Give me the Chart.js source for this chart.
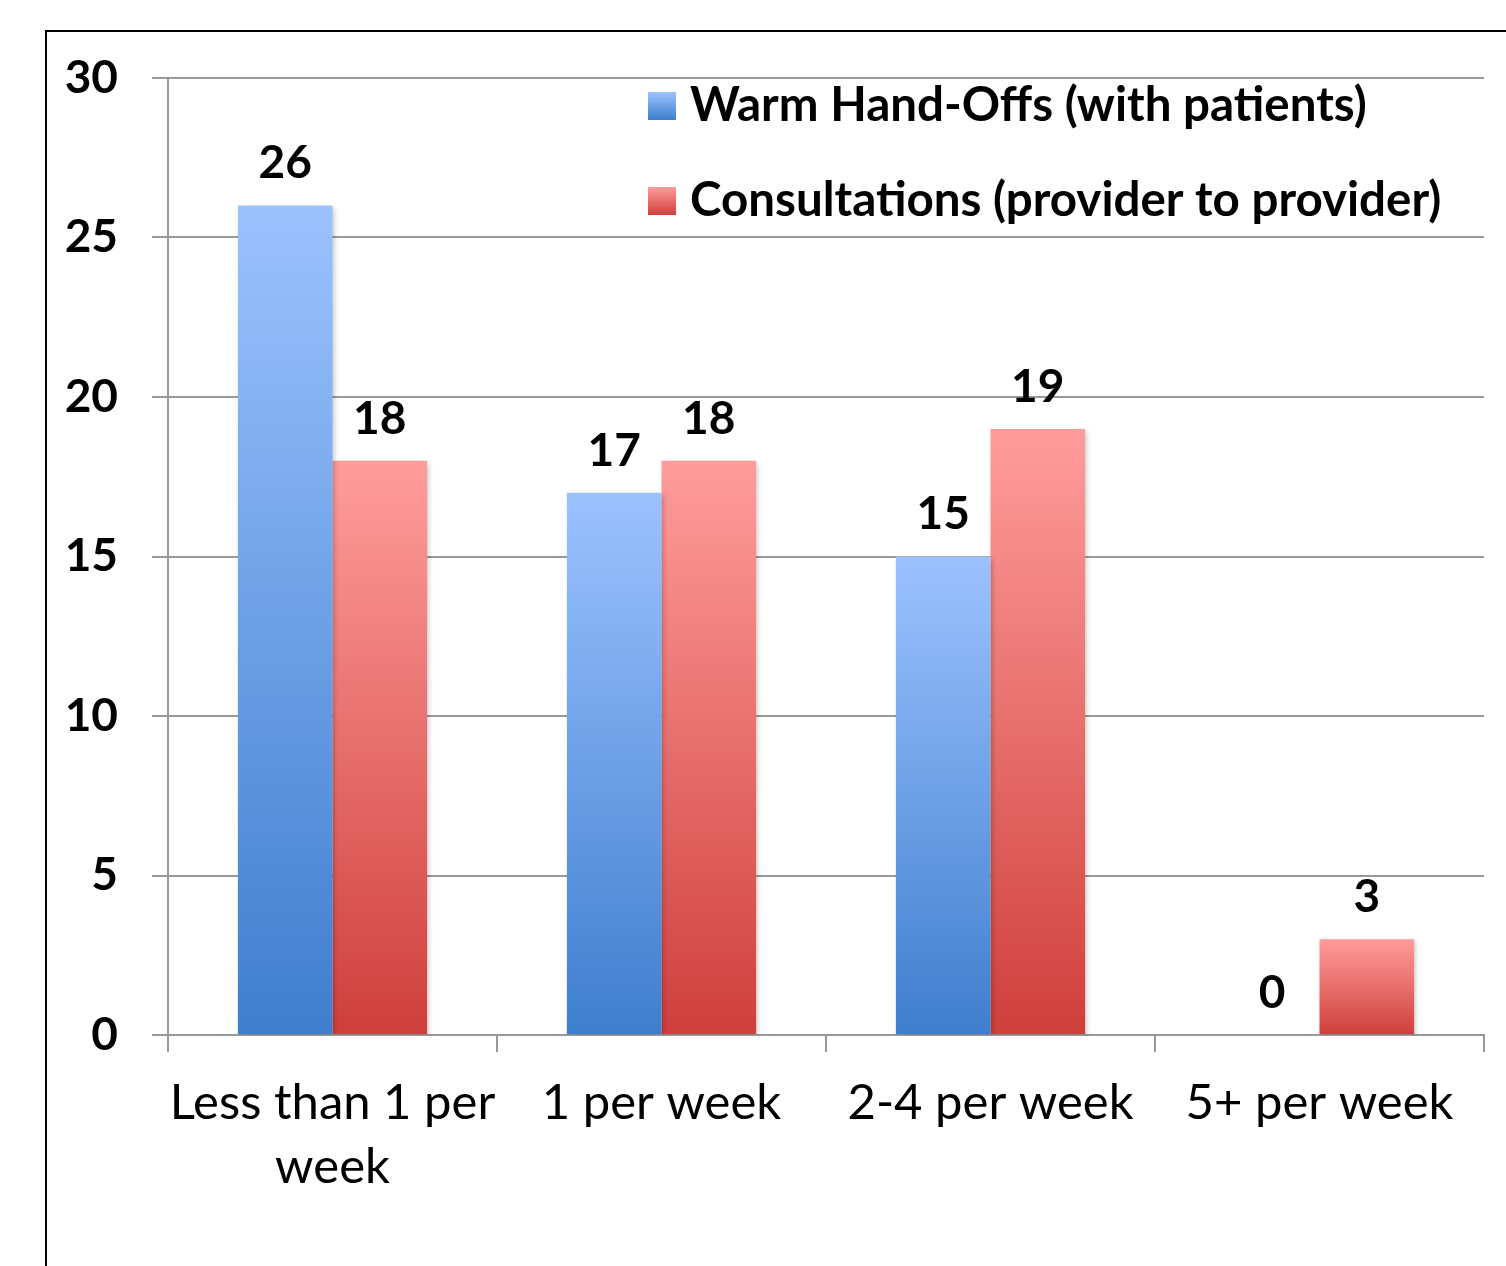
<!DOCTYPE html>
<html>
<head>
<meta charset="utf-8">
<script src="https://cdn.jsdelivr.net/npm/chart.js@4/dist/chart.umd.min.js"></script>
<style>
    html, body { margin: 0; padding: 0; background: #fff; overflow: hidden; }
    #wrap { width: 1506px; height: 1266px; position: relative; }
</style>
</head>
<body>
<div id="wrap"><canvas id="handoffChart" width="1506" height="1266"></canvas></div>
<script>
// data
const categories = [['Less than 1 per', 'week'], '1 per week', '2-4 per week', '5+ per week'];
const warmHandOffs = [26, 17, 15, 0];
const consultations = [18, 18, 19, 3];
const yTicks = [0, 5, 10, 15, 20, 25, 30];

const FONT = 'Lato, "Open Sans", sans-serif';

// gradient per bar: light at top, dark at the base
function barGradient(top, bottom) {
    return function (c) {
        const chart = c.chart;
        if (!chart.chartArea || c.raw === undefined) return bottom;
        const y = chart.scales.y;
        const y1 = y.getPixelForValue(c.raw);
        const y0 = y.getPixelForValue(0);
        if (y0 - y1 < 1) return bottom;
        const g = chart.ctx.createLinearGradient(0, y1, 0, y0);
        g.addColorStop(0, top);
        g.addColorStop(1, bottom);
        return g;
    };
}

// frame around the chart (runs off right/bottom edges)
const framePlugin = {
    id: 'frame',
    beforeDraw(chart) {
        const ctx = chart.ctx;
        ctx.save();
        ctx.strokeStyle = '#000';
        ctx.lineWidth = 2;
        ctx.strokeRect(46, 31, 2000, 2000);
        ctx.restore();
    }
};

// soft shadow under bars
const shadowPlugin = {
    id: 'barShadow',
    beforeDatasetsDraw(chart) {
        const ctx = chart.ctx;
        ctx.save();
        ctx.shadowColor = 'rgba(0,0,0,0.22)';
        ctx.shadowBlur = 5;
        ctx.shadowOffsetX = 2;
        ctx.shadowOffsetY = 2;
    },
    afterDatasetsDraw(chart) {
        chart.ctx.restore();
    }
};

// value labels above each bar
const valueLabels = {
    id: 'valueLabels',
    afterDatasetsDraw(chart) {
        const ctx = chart.ctx;
        ctx.save();
        ctx.font = 'bold 46px ' + FONT;
        ctx.fillStyle = '#000';
        ctx.textAlign = 'center';
        ctx.textBaseline = 'middle';
        chart.data.datasets.forEach((ds, i) => {
            chart.getDatasetMeta(i).data.forEach((bar, j) => {
                ctx.fillText(String(ds.data[j]), bar.x, bar.y - 42);
            });
        });
        ctx.restore();
    }
};

// legend drawn inside the plot, top right
const innerLegend = {
    id: 'innerLegend',
    afterDraw(chart) {
        const ctx = chart.ctx;
        const rows = [
            { label: chart.data.datasets[0].label, top: '#9CC2FE', bottom: '#3F7ECE', y: 106 },
            { label: chart.data.datasets[1].label, top: '#FF9D9B', bottom: '#CF3F3C', y: 201 }
        ];
        ctx.save();
        rows.forEach(r => {
            const g = ctx.createLinearGradient(0, r.y - 14, 0, r.y + 14);
            g.addColorStop(0, r.top);
            g.addColorStop(1, r.bottom);
            ctx.fillStyle = g;
            ctx.fillRect(648, r.y - 14, 28, 28);
            ctx.fillStyle = '#000';
            ctx.font = 'bold 47.5px ' + FONT;
            ctx.textBaseline = 'middle';
            ctx.textAlign = 'left';
            ctx.fillText(r.label, 690, r.y);
        });
        ctx.restore();
    }
};

const ctx = document.getElementById('handoffChart').getContext('2d');
const handoffChart = new Chart(ctx, {
    type: 'bar',
    data: {
        labels: categories,
        datasets: [
            {
                label: 'Warm Hand-Offs (with patients)',
                data: warmHandOffs,
                backgroundColor: barGradient('#9CC2FE', '#3F7ECE'),
                borderWidth: 0
            },
            {
                label: 'Consultations (provider to provider)',
                data: consultations,
                backgroundColor: barGradient('#FF9D9B', '#CF3F3C'),
                borderWidth: 0
            }
        ]
    },
    options: {
        responsive: false,
        animation: false,
        devicePixelRatio: 1,
        categoryPercentage: 0.575,
        barPercentage: 1,
        layout: { padding: { top: 78, right: 22, left: 0, bottom: 0 } },
        scales: {
            x: {
                grid: { offset: true, drawOnChartArea: false, color: '#999', tickLength: 17, lineWidth: 2 },
                border: { color: '#999', width: 2 },
                ticks: { color: '#000', font: { family: FONT, size: 49, lineHeight: 1.29 }, padding: 20, maxRotation: 0, autoSkip: false },
                afterFit(scale) { scale.height = 231; }
            },
            y: {
                min: 0,
                max: 30,
                afterBuildTicks(scale) { scale.ticks = yTicks.map(v => ({ value: v })); },
                grid: { color: '#999', lineWidth: 2, tickLength: 16 },
                border: { color: '#999', width: 2 },
                ticks: { color: '#000', font: { family: FONT, size: 46, weight: 'bold' }, padding: 34 },
                afterFit(scale) { scale.width = 168; }
            }
        },
        plugins: {
            legend: { display: false },
            tooltip: { enabled: false }
        }
    },
    plugins: [framePlugin, shadowPlugin, valueLabels, innerLegend]
});
</script>
</body>
</html>
